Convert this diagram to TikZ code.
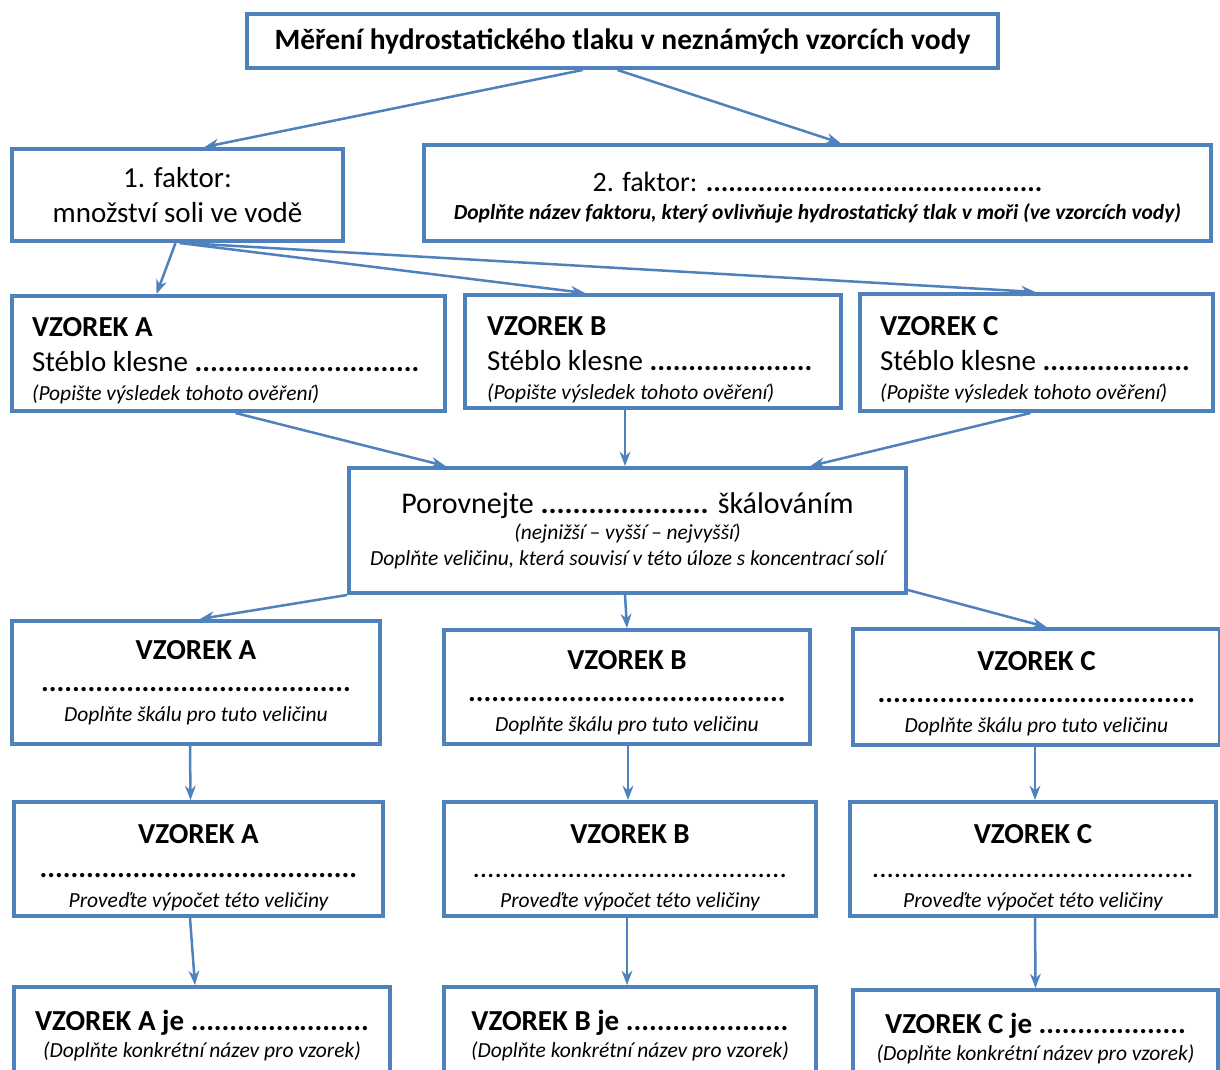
\documentclass[tikz,border=0pt]{standalone}
\usepackage{fontspec}
\setmainfont{Carlito}
\usepackage{xcolor}
\usetikzlibrary{arrows.meta,positioning,calc}
\definecolor{ramec}{HTML}{4F81BD}
\newcommand\tecky[1]{\foreach\i in {1,...,#1}{.}}
\newcommand\pozn[1]{{\fontsize{21.5}{25}\selectfont\itshape #1}}
\newcommand\podpera[1]{\rule{0pt}{#1pt}}

\begin{document}
\begin{tikzpicture}[x=1pt,y=-1pt,
  box/.style={draw=ramec,line width=4pt,fill=white,align=center,inner sep=0pt},
  velky/.style={font=\fontsize{29}{34}\selectfont},
  spoj/.style={->,draw=ramec,line width=2.5pt},
  >=Stealth]
\clip (0,0) rectangle (1220,1070);
\fill[white] (0,0) rectangle (1220,1070);
% hlavni nadpis a faktory
\node[box,minimum width=751,minimum height=54,font=\fontsize{29.5}{34}\selectfont\bfseries] (nadpis) at (622.5,41) {Měření hydrostatického tlaku v neznámých vzorcích vody};
\node[box,velky,minimum width=331,minimum height=92] (f1) at (177.5,195) {1. faktor:\\[1pt]množství soli ve vodě};
\node[box,minimum width=787,minimum height=96,font=\fontsize{28}{28}\selectfont] (f2) at (817.5,193) {\podpera{29}2. faktor: \textbf{\tecky{45}}\\{\fontsize{21.5}{25}\selectfont\bfseries\itshape Doplňte název faktoru, který ovlivňuje hydrostatický tlak v moři (ve vzorcích vody)}};
% overeni steblem
\node[box,velky,align=flush left,text width=393,minimum width=433,minimum height=115] (sA1) at (228.5,353.5) {\podpera{34}\textbf{VZOREK A}\\[1pt]Stéblo klesne~\textbf{\tecky{29}}\\[-5pt]\pozn{(Popište výsledek tohoto ověření)}};
\node[box,velky,align=flush left,text width=332,minimum width=376,minimum height=113] (sB1) at (653,351.5) {\podpera{36}\textbf{VZOREK B}\\[1pt]Stéblo klesne~\textbf{\tecky{21}}\\[-5pt]\pozn{(Popište výsledek tohoto ověření)}};
\node[box,velky,align=flush left,text width=313,minimum width=353,minimum height=117] (sC1) at (1036.5,352.5) {\podpera{34}\textbf{VZOREK C}\\[1pt]Stéblo klesne~\textbf{\tecky{19}}\\[-5pt]\pozn{(Popište výsledek tohoto ověření)}};
% porovnani
\node[box,font=\fontsize{30}{34}\selectfont,minimum width=557,minimum height=125] (por) at (627.5,530.5) {Porovnejte \textbf{\tecky{21}} škálováním\\[-8pt]\pozn{(nejnižší – vyšší – nejvyšší)}\\[-8pt]\pozn{Doplňte veličinu, která souvisí v této úloze s koncentrací solí}};
% skala
\node[box,velky,minimum width=368,minimum height=123] (sA2) at (196,682.5) {\textbf{VZOREK A}\\[-2pt]\textbf{\tecky{40}}\\[-4pt]\pozn{Doplňte škálu pro tuto veličinu}};
\node[box,velky,minimum width=366,minimum height=114] (sB2) at (627,687) {\podpera{30}\textbf{VZOREK B}\\[-2pt]\textbf{\tecky{41}}\\[-4pt]\pozn{Doplňte škálu pro tuto veličinu}};
\node[box,velky,minimum width=367,minimum height=116] (sC2) at (1036.5,687) {\podpera{33}\textbf{VZOREK C}\\[-2pt]\textbf{\tecky{41}}\\[-4pt]\pozn{Doplňte škálu pro tuto veličinu}};
% vypocet
\node[box,velky,minimum width=369,minimum height=114] (sA3) at (198.5,859) {\podpera{36}\textbf{VZOREK A}\\[0pt]\textbf{\tecky{41}}\\[-4pt]\pozn{Proveďte výpočet této veličiny}};
\node[box,velky,minimum width=372,minimum height=114] (sB3) at (630,859) {\podpera{36}\textbf{VZOREK B}\\[0pt]\tecky{43}\\[-4pt]\pozn{Proveďte výpočet této veličiny}};
\node[box,velky,minimum width=366,minimum height=114] (sC3) at (1033,859) {\podpera{36}\textbf{VZOREK C}\\[0pt]\tecky{44}\\[-4pt]\pozn{Proveďte výpočet této veličiny}};
% nazev vzorku
\node[box,velky,minimum width=376,minimum height=98] (sA4) at (202,1036) {\textbf{VZOREK A je \tecky{23}}\\[-7pt]\pozn{(Doplňte konkrétní název pro vzorek)}};
\node[box,velky,minimum width=372,minimum height=98] (sB4) at (630,1036) {\textbf{VZOREK B je \tecky{21}}\\[-7pt]\pozn{(Doplňte konkrétní název pro vzorek)}};
\node[box,velky,minimum width=365,minimum height=98] (sC4) at (1035.5,1039) {\textbf{VZOREK C je \tecky{19}}\\[-7pt]\pozn{(Doplňte konkrétní název pro vzorek)}};
% spojnice
\draw[spoj] ($(nadpis.south)+(-40,0)$) -- ($(f1.north)+(27,0)$);
\draw[spoj] ($(nadpis.south)+(-5,0)$) -- ($(f2.north)+(23,0)$);
\draw[spoj] ($(f1.south)+(-2,0)$) -- ($(sA1.north)+(-72,0)$);
\draw[spoj] ($(f1.south)+(2,0)$) -- ($(sB1.north)+(-68,0)$);
\draw[spoj] ($(f1.south)+(6,0)$) -- ($(sC1.north)+(-1,0)$);
\draw[spoj] ($(sA1.south)+(7,0)$) -- ($(por.north)+(-182,0)$);
\draw[spoj] ($(sB1.south)+(-28,0)$) -- ($(por.north)+(-2.5,0)$);
\draw[spoj] ($(sC1.south)+(-6,0)$) -- ($(por.north)+(183,0)$);
\draw[spoj] (por.south west) -- ($(sA2.north)+(4,0)$);
\draw[spoj] ($(por.south)+(-2.5,0)$) -- (sB2.north);
\draw[spoj] ($(por.south east)+(0,-5)$) -- ($(sC2.north)+(10,0)$);
\draw[spoj] ($(sA2.south)+(-6,0)$) -- ($(sA3.north)+(-8,0)$);
\draw[spoj] ($(sB2.south)+(1,0)$) -- ($(sB3.north)+(-2,0)$);
\draw[spoj] ($(sC2.south)+(-1.5,0)$) -- ($(sC3.north)+(2,0)$);
\draw[spoj] ($(sA3.south)+(-8.5,0)$) -- ($(sA4.north)+(-7,0)$);
\draw[spoj] ($(sB3.south)+(-3,0)$) -- ($(sB4.north)+(-3,0)$);
\draw[spoj] ($(sC3.south)+(2,0)$) -- (sC4.north);
\end{tikzpicture}
\end{document}
